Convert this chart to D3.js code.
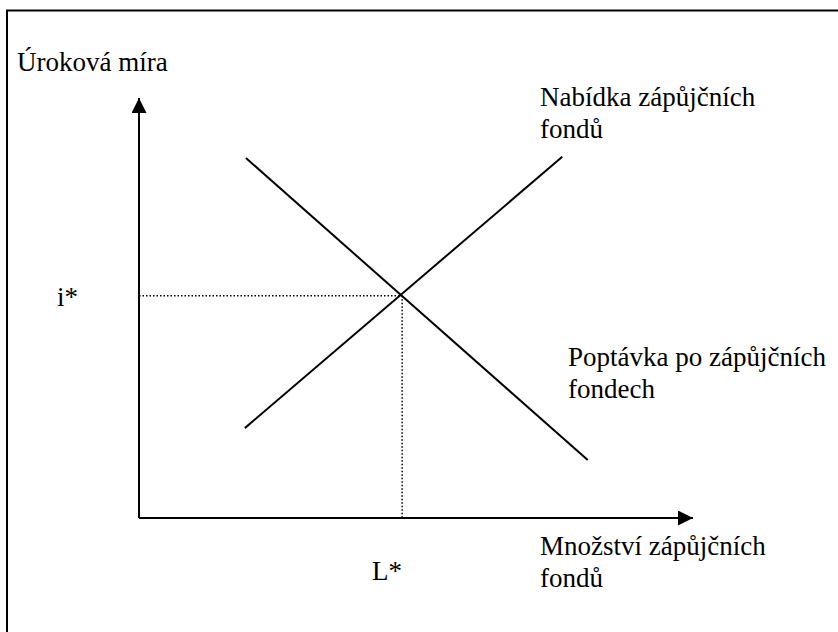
<!DOCTYPE html>
<html>
<head>
<meta charset="utf-8">
<script src="https://cdn.jsdelivr.net/npm/d3@7"></script>
<style>
  body { margin: 0; background: #fff; }
</style>
</head>
<body>
<div id="chart"></div>
<script>
// data in abstract units (quantity 0-10, rate 0-10)
var supplyLine = [{q: 1.91, r: 2.14}, {q: 7.64, r: 8.6}];
var demandLine = [{q: 1.93, r: 8.57}, {q: 8.1, r: 1.38}];
var equilibrium = {q: 4.75, r: 5.29};
var axisLabels = {y: "Úroková míra", x: ["Množství zápůjčních", "fondů"]};
var curveLabels = {
    supply: ["Nabídka zápůjčních", "fondů"],
    demand: ["Poptávka po zápůjčních", "fondech"]
};
var eqLabels = {r: "i*", q: "L*"};

var W = 838, H = 632;
var FONT = "'Liberation Serif', 'Times New Roman', Times, Tinos, 'Nimbus Roman', 'Noto Serif', FreeSerif, 'DejaVu Serif', serif";
var fs = "27px";

var svg = d3.select("#chart").append("svg")
    .attr("width", W).attr("height", H)
    .style("font-family", FONT);

// frame
svg.append("path")
    .attr("d", "M7,632 V10.5 H838")
    .attr("fill", "none")
    .attr("stroke", "#000")
    .attr("stroke-width", 2);

var x = d3.scaleLinear().domain([0, 10]).range([139, 693]);
var y = d3.scaleLinear().domain([0, 10]).range([518, 98]);

var defs = svg.append("defs");
defs.append("marker")
    .attr("id", "arrow")
    .attr("viewBox", "0 0 10 10")
    .attr("refX", 10).attr("refY", 5)
    .attr("markerWidth", 15).attr("markerHeight", 15)
    .attr("markerUnits", "userSpaceOnUse")
    .attr("orient", "auto")
    .append("path")
    .attr("d", "M0,0 L10,5 L0,10 Z")
    .attr("fill", "#000");

// axes
svg.append("line")
    .attr("x1", x(0)).attr("y1", y(0))
    .attr("x2", x(0)).attr("y2", y(10))
    .attr("stroke", "#000").attr("stroke-width", 2)
    .attr("marker-end", "url(#arrow)");

svg.append("line")
    .attr("x1", x(0)).attr("y1", y(0))
    .attr("x2", x(10)).attr("y2", y(0))
    .attr("stroke", "#000").attr("stroke-width", 2)
    .attr("marker-end", "url(#arrow)");

// dotted guides
svg.append("line")
    .attr("x1", x(0)).attr("y1", y(equilibrium.r))
    .attr("x2", x(equilibrium.q)).attr("y2", y(equilibrium.r))
    .attr("stroke", "#000").attr("stroke-width", 1.5)
    .attr("stroke-dasharray", "1.5,2");

svg.append("line")
    .attr("x1", x(equilibrium.q)).attr("y1", y(equilibrium.r))
    .attr("x2", x(equilibrium.q)).attr("y2", y(0))
    .attr("stroke", "#000").attr("stroke-width", 1.5)
    .attr("stroke-dasharray", "1.5,2");

var line = d3.line()
    .x(function(d) { return x(d.q); })
    .y(function(d) { return y(d.r); });

[supplyLine, demandLine].forEach(function(pts) {
    svg.append("path")
        .attr("d", line(pts))
        .attr("fill", "none")
        .attr("stroke", "#000")
        .attr("stroke-width", 2);
});

function addText(s, px, py) {
    return svg.append("text")
        .attr("x", px).attr("y", py)
        .style("font-family", FONT)
        .style("font-size", fs)
        .attr("fill", "#000")
        .text(s);
}

function multiline(lines, px, py, lh) {
    lines.forEach(function(s, i) { addText(s, px, py + i * lh); });
}

addText(axisLabels.y, 17, 71);
multiline(axisLabels.x, 540, 555, 32);
multiline(curveLabels.supply, 540, 106, 32);
multiline(curveLabels.demand, 568, 366, 32);
addText(eqLabels.r, 57, 306);
addText(eqLabels.q, 372, 580);
</script>
</body>
</html>
